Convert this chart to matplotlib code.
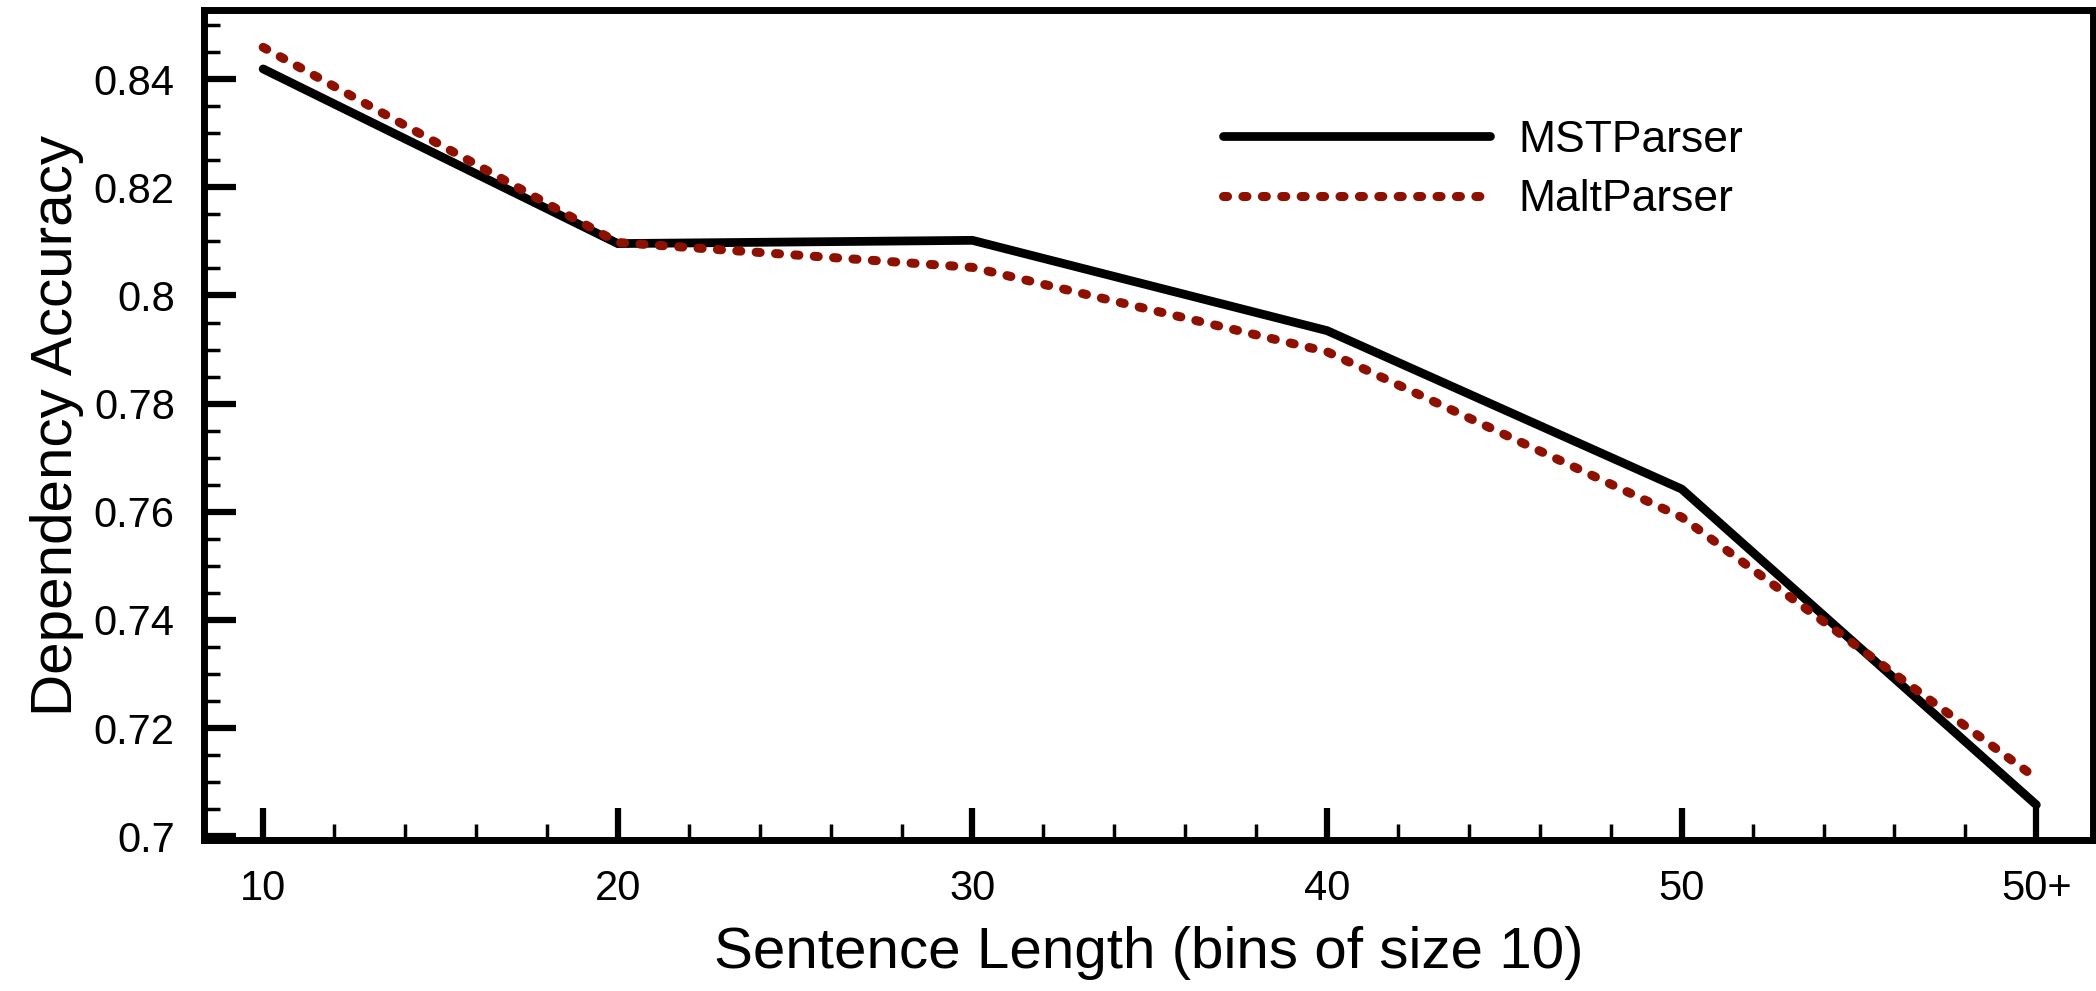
import matplotlib.pyplot as plt
from matplotlib.ticker import MultipleLocator
import numpy as np

font = 'Liberation Sans'
filename = 'out.png'

categories = ['10', '20', '30', '40', '50', '50+']
mst = [0.8419, 0.8096, 0.8102, 0.7935, 0.7642, 0.7058]
malt = [0.8459, 0.8098, 0.8052, 0.7896, 0.7590, 0.7107]
positions = np.arange(len(categories))

fig = plt.figure(figsize=(20.96, 9.91), dpi=100)
ax = fig.add_axes([0.0973, 0.1524, 0.9013, 0.8375])

ax.plot(positions, mst, color='black', linewidth=6.3, solid_capstyle='round',
        solid_joinstyle='miter', label='MSTParser')
ax.plot(positions, malt, color='#8e1000', linewidth=6.5, dash_capstyle='round',
        dashes=(0.45, 1.7), label='MaltParser')

ax.set_xlim(-0.167, 5.16)
ax.set_ylim(0.6993, 0.8528)
ax.set_xticks(positions)
ax.set_xticklabels(categories)
ax.xaxis.set_minor_locator(MultipleLocator(0.2))
ax.set_yticks([0.7, 0.72, 0.74, 0.76, 0.78, 0.8, 0.82, 0.84])
ax.set_yticklabels(['0.7', '0.72', '0.74', '0.76', '0.78', '0.8', '0.82', '0.84'])
ax.yaxis.set_minor_locator(MultipleLocator(0.005))

ax.tick_params(which='both', direction='in', top=False, right=False)
ax.tick_params(which='major', length=23, width=4.5, labelsize=30, pad=21)
ax.tick_params(which='minor', length=11.5, width=2.5)
for lab in ax.get_xticklabels() + ax.get_yticklabels():
    lab.set_fontname(font)

for sp in ax.spines.values():
    sp.set_linewidth(5)

ax.set_xlabel('Sentence Length (bins of size 10)', fontsize=42, fontname=font,
              labelpad=12)
ax.set_ylabel('Dependency Accuracy', fontsize=42, fontname=font, labelpad=7)

# legend sits inside the axes, no frame
leg = ax.legend(loc='center left', bbox_to_anchor=(0.5835, 0.8285),
                bbox_transform=fig.transFigure, frameon=False, borderpad=0,
                borderaxespad=0, handlelength=6.0, handletextpad=0.65,
                labelspacing=0.42, prop={'family': font, 'size': 32})

fig.savefig(filename, dpi=100, facecolor='white')
